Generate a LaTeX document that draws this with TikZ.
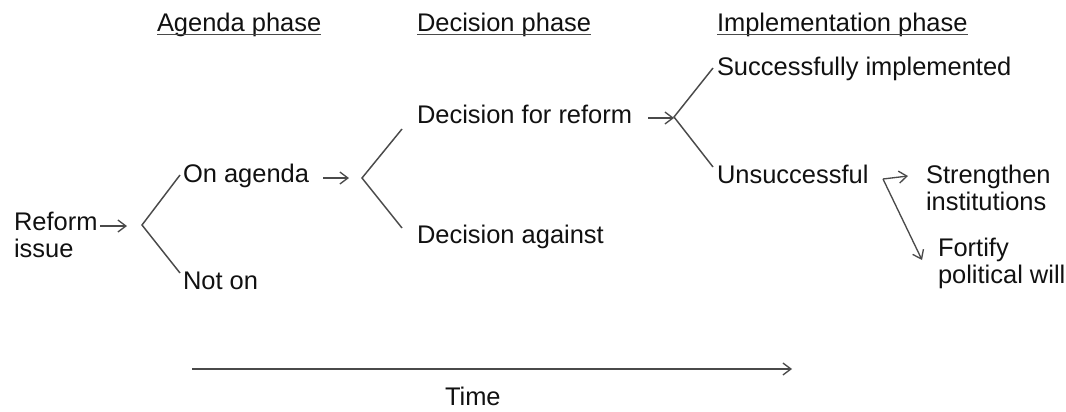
\documentclass[tikz,border=0pt]{standalone}
\usepackage{fontspec}
\setmainfont{Liberation Sans}
\usetikzlibrary{arrows.meta,calc}
\definecolor{txt}{HTML}{111111}
\definecolor{ln}{HTML}{4A4A4A}
\begin{document}
\begin{tikzpicture}[x=0.75pt,y=-0.75pt,
  lbl/.style={anchor=base west,inner sep=0pt,outer sep=0pt,text=txt,
    font=\fontsize{19.1}{20.25}\selectfont,align=left},
  fork/.style={draw=ln,line width=1.1pt},
  arr/.style={draw=ln,line width=1pt,-{Straight Barb[length=6pt,width=9pt,line width=1pt]}},
  uline/.style={draw=ln,line width=1.1pt}]
\useasboundingbox (0,0) rectangle (1066,411);
% headers
\node[lbl] (h1) at (157,31) {Agenda phase};
\node[lbl] (h2) at (417,31) {Decision phase};
\node[lbl] (h3) at (717,31) {Implementation phase};
\foreach \h in {h1,h2,h3}{
  \draw[uline] ($(\h.base west)+(0,3.5)$) -- ($(\h.base east)+(0,3.5)$);}
% texts (base anchor of two-line nodes is the last line)
\node[lbl] (reform) at (14,257) {Reform\\issue};
\node[lbl] (onag) at (183,182) {On agenda};
\node[lbl] (noton) at (183,289) {Not on};
\node[lbl] (dfor) at (417,123) {Decision for reform};
\node[lbl] (dag) at (417,243) {Decision against};
\node[lbl] (succ) at (717,75) {Successfully implemented};
\node[lbl] (unsucc) at (717,183) {Unsuccessful};
\node[lbl] (stren) at (926,210) {Strengthen\\institutions};
\node[lbl] (fort) at (938,283) {Fortify\\political will};
\node[lbl] (time) at (445,405) {Time};
% fork points
\coordinate (f1) at (142,225);
\coordinate (f1a) at (180,175);
\coordinate (f1b) at (180,273);
\coordinate (f2) at (362,178);
\coordinate (f2a) at (402,129);
\coordinate (f2b) at (402,228);
\coordinate (f3) at (674,117);
\coordinate (f3a) at (713,68);
\coordinate (f3b) at (713,167);
\draw[fork] (f1a) -- (f1) -- (f1b);
\draw[fork] (f2a) -- (f2) -- (f2b);
\draw[fork] (f3a) -- (f3) -- (f3b);
% arrows
\coordinate (a1s) at (100,226); \coordinate (a1e) at (127,226);
\coordinate (a2s) at (323,178); \coordinate (a2e) at (349,178);
\coordinate (a3s) at (648,118); \coordinate (a3e) at (674,118);
\coordinate (u0) at (883,179);
\coordinate (u1) at (908,176);
\coordinate (u2) at (922,260);
\coordinate (t0) at (192,369); \coordinate (t1) at (792,369);
\draw[arr] (a1s) -- (a1e);
\draw[arr] (a2s) -- (a2e);
\draw[arr] (a3s) -- (a3e);
\draw[arr] (u0) -- (u1);
\draw[arr] (u0) -- (u2);
\draw[arr] (t0) -- (t1);
\end{tikzpicture}
\end{document}
